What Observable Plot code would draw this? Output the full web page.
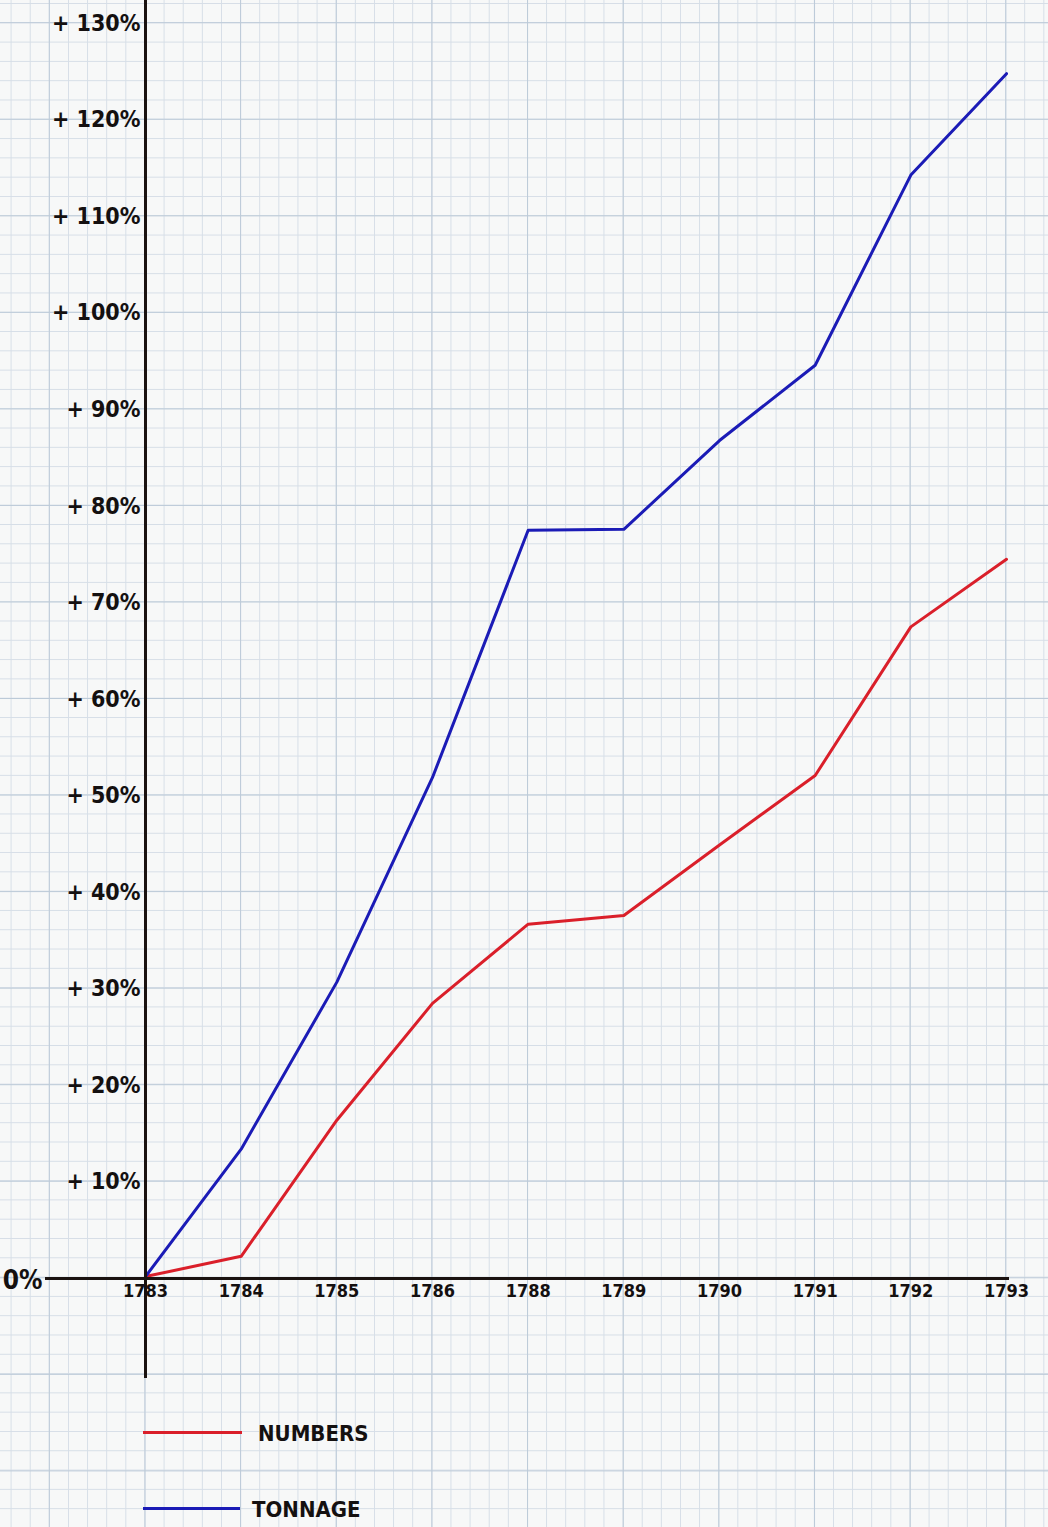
<!DOCTYPE html>
<html>
<head>
<meta charset="utf-8">
<script src="https://cdn.jsdelivr.net/npm/d3@7"></script>
<script src="https://cdn.jsdelivr.net/npm/@observablehq/plot@0.6"></script>
<style>
  html, body { margin: 0; padding: 0; }
  body {
    width: 1048px; height: 1527px; position: relative; overflow: hidden;
    background-color: #f7f8f8;
    background-image:
      linear-gradient(to right, #bccad8 1.4px, transparent 1.4px),
      linear-gradient(to bottom, #bccad8 1.4px, transparent 1.4px),
      linear-gradient(to right, #d6dee7 1px, transparent 1px),
      linear-gradient(to bottom, #d6dee7 1px, transparent 1px);
    background-size: 95.67px 100%, 100% 96.55px, 19.13px 100%, 100% 19.31px;
    background-position: 48.8px 0, 0 22.2px, 10.6px 0, 0 3.0px;
    font-family: "DejaVu Sans Condensed", "DejaVu Sans", sans-serif;
  }
  #chart svg { display: block; background: transparent; }
  .leg-line { position: absolute; height: 3px; }
  .leg-text { position: absolute; font-size: 22px; font-weight: bold; color: #141010; line-height: 1; transform: translateY(-50%); }
</style>
</head>
<body>
<div id="chart"></div>
<div id="legend"></div>
<script>
// ---- data ----
const years = ["1783", "1784", "1785", "1786", "1788", "1789", "1790", "1791", "1792", "1793"];
const numbers = [0.2, 2.3, 16.4, 28.5, 36.7, 37.6, 44.9, 52.1, 67.5, 74.5];
const tonnage = [0.2, 13.4, 30.7, 51.9, 77.5, 77.6, 86.8, 94.6, 114.3, 124.8];
const yTicks = [10, 20, 30, 40, 50, 60, 70, 80, 90, 100, 110, 120, 130];
const yTickLabels = ["+ 10%", "+ 20%", "+ 30%", "+ 40%", "+ 50%", "+ 60%", "+ 70%", "+ 80%", "+ 90%", "+ 100%", "+ 110%", "+ 120%", "+ 130%"];
const zeroLabel = "0%";
const seriesNames = ["NUMBERS", "TONNAGE"];
const seriesColors = ["#da1f2a", "#1b1bb6"];

const rows = years.flatMap((yr, i) => [
  {year: yr, value: numbers[i], series: seriesNames[0]},
  {year: yr, value: tonnage[i], series: seriesNames[1]}
]);

const ink = "#1a1210";
const chart = Plot.plot({
  width: 1048,
  height: 1395,
  marginLeft: 145,
  marginRight: 42,
  marginTop: 23,
  marginBottom: 117,
  style: {background: "transparent", fontFamily: "'DejaVu Sans Condensed', 'DejaVu Sans', sans-serif", fontWeight: "bold", color: "#141010"},
  x: {type: "point", domain: years, padding: 0, round: false},
  y: {domain: [0, 130]},
  color: {domain: seriesNames, range: seriesColors},
  marks: [
    Plot.axisY(yTicks, {tickFormat: d => yTickLabels[yTicks.indexOf(d)], tickSize: 0, tickPadding: 5, fontSize: 23, label: null}),
    Plot.axisY([0], {tickFormat: () => zeroLabel, tickSize: 0, tickPadding: 5, dx: -98, dy: 2, fontSize: 26, label: null}),
    Plot.axisX(years, {tickSize: 0, tickPadding: 6, fontSize: 18, label: null}),
    Plot.lineY(rows, {x: "year", y: "value", stroke: "series", strokeWidth: 3, strokeLinejoin: "round"}),
    Plot.ruleY([0], {insetLeft: -100, insetRight: -3, stroke: ink, strokeWidth: 3}),
    Plot.ruleX([years[0]], {insetTop: -23, insetBottom: -100, stroke: ink, strokeWidth: 3})
  ]
});
document.getElementById("chart").appendChild(chart);

// ---- legend (below the SVG) ----
const legend = document.getElementById("legend");
const legRows = [
  {top: 1432, lineLeft: 143, lineWidth: 99, textLeft: 258},
  {top: 1508, lineLeft: 143, lineWidth: 97, textLeft: 252}
];
seriesNames.forEach((name, i) => {
  const r = legRows[i];
  const line = document.createElement("div");
  line.className = "leg-line";
  line.style.left = r.lineLeft + "px";
  line.style.top = (r.top - 1.5) + "px";
  line.style.width = r.lineWidth + "px";
  line.style.background = seriesColors[i];
  legend.appendChild(line);
  const t = document.createElement("div");
  t.className = "leg-text";
  t.style.left = r.textLeft + "px";
  t.style.top = (r.top + 2) + "px";
  t.textContent = name;
  legend.appendChild(t);
});
</script>
</body>
</html>
